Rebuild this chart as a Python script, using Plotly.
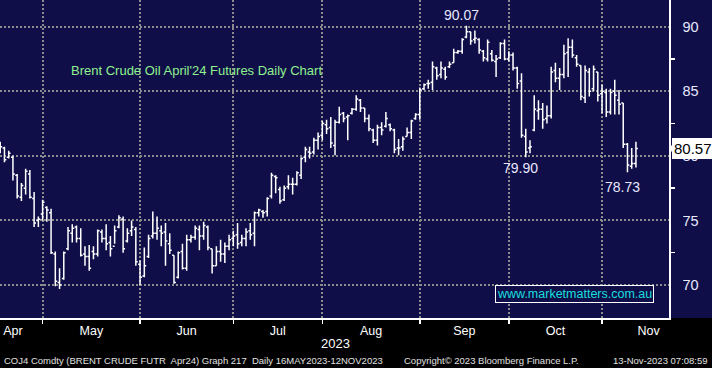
import pandas as pd
import plotly.graph_objects as go

# ---------------- data ----------------
dates = pd.bdate_range("2023-04-17", "2023-11-13")

open_ = [81.0, 80.6, 79.9, 79.9, 78.5, 76.8, 77.5, 78.6, 76.7, 75.0,
         75.5, 76.0, 75.6, 72.4, 70.2, 70.5, 72.8, 74.0, 74.5, 73.6,
         72.4, 72.2, 72.6, 72.4, 74.1, 73.6, 73.3, 73.0, 74.5, 75.1,
         73.4, 74.2, 74.3, 71.6, 70.7, 72.2, 73.8, 74.0, 74.2, 74.1,
         73.2, 72.3, 70.6, 72.6, 71.3, 73.5, 73.7, 74.3, 73.8, 74.5,
         72.8, 71.5, 72.6, 72.4, 73.0, 73.6, 73.9, 73.3, 73.6, 74.2,
         74.0, 75.6, 75.7, 75.7, 76.9, 78.4, 77.4, 76.6, 77.6, 77.8,
         77.8, 78.5, 79.9, 80.3, 80.3, 81.2, 81.6, 82.4, 82.2, 80.8,
         82.6, 83.3, 83.0, 83.3, 83.6, 84.3, 83.7, 82.9, 82.0, 81.2,
         82.2, 82.3, 82.4, 82.0, 80.6, 80.7, 81.5, 81.8, 82.9, 83.2,
         85.2, 85.6, 85.7, 86.8, 86.3, 86.7, 86.9, 87.2, 88.0, 88.1,
         89.2, 89.6, 89.0, 89.0, 88.1, 87.5, 87.9, 87.3, 87.6, 88.7,
         87.5, 87.8, 86.8, 85.8, 81.5, 80.6, 82.0, 83.5, 83.6, 82.9,
         83.1, 86.6, 86.0, 86.3, 88.0, 88.4, 87.6, 87.0, 84.5, 86.5,
         85.2, 86.5, 84.8, 84.9, 83.4, 85.0, 84.3, 84.1, 80.9, 79.2,
         79.4]
high = [81.1, 80.7, 80.4, 80.0, 78.6, 77.9, 79.0, 78.9, 77.2, 75.3,
        76.6, 76.1, 75.9, 72.6, 71.3, 72.6, 74.5, 74.7, 74.6, 74.4,
        73.0, 73.1, 73.0, 74.3, 74.3, 74.7, 73.8, 74.6, 75.4, 75.3,
        74.4, 75.0, 74.5, 71.9, 72.9, 73.9, 75.7, 75.3, 74.6, 74.8,
        74.0, 72.3, 72.6, 73.2, 73.9, 73.9, 74.6, 74.6, 74.9, 74.6,
        72.8, 73.0, 73.5, 73.3, 73.9, 74.2, 74.8, 73.9, 74.4, 74.8,
        75.7, 75.9, 75.8, 76.8, 78.7, 78.5, 77.6, 77.7, 78.5, 78.3,
        78.8, 79.9, 80.7, 80.7, 81.4, 81.8, 82.7, 82.8, 83.0, 82.8,
        83.8, 83.4, 83.2, 83.7, 84.7, 84.4, 83.7, 83.2, 82.1, 82.4,
        82.6, 83.4, 82.5, 82.1, 81.3, 81.5, 82.2, 82.8, 83.3, 85.3,
        85.6, 85.9, 87.3, 86.9, 87.3, 86.9, 87.3, 88.3, 88.2, 89.1,
        90.07, 89.6, 89.7, 89.1, 88.2, 89.0, 88.2, 87.8, 88.8, 89.0,
        88.1, 88.0, 86.9, 86.4, 82.1, 81.2, 84.7, 84.3, 84.1, 83.9,
        86.9, 87.2, 86.8, 88.6, 89.1, 89.0, 87.8, 87.0, 87.0, 86.8,
        87.0, 86.5, 85.5, 85.2, 85.2, 85.9, 85.1, 84.1, 81.0, 80.6,
        81.1]
low = [80.2, 79.5, 79.8, 78.1, 76.7, 76.5, 77.0, 76.7, 74.5, 74.5,
       75.0, 74.9, 72.4, 69.9, 69.7, 70.4, 72.7, 73.3, 73.3, 72.2,
       71.5, 71.1, 72.0, 72.2, 73.3, 72.7, 72.2, 73.2, 74.4, 72.5,
       73.3, 73.8, 71.5, 70.0, 70.6, 72.1, 73.6, 73.5, 73.0, 71.5,
       72.4, 70.1, 70.5, 71.2, 71.1, 73.3, 73.5, 72.7, 73.5, 72.7,
       70.9, 71.5, 71.8, 71.7, 72.7, 73.0, 72.8, 73.0, 73.0, 73.5,
       73.0, 75.3, 75.2, 75.3, 76.7, 77.1, 76.3, 76.5, 77.4, 77.0,
       77.7, 78.2, 79.5, 79.8, 80.1, 80.5, 81.2, 81.7, 80.6, 80.05,
       82.5, 82.6, 81.2, 83.2, 83.5, 83.4, 82.6, 81.9, 81.0, 80.8,
       81.6, 82.2, 81.9, 80.2, 80.05, 80.4, 81.5, 81.3, 82.8, 82.8,
       85.1, 85.2, 85.1, 85.9, 86.0, 85.9, 86.8, 87.2, 87.9, 87.9,
       89.1, 88.6, 88.7, 87.9, 87.3, 87.3, 87.3, 86.1, 87.5, 87.4,
       87.3, 86.6, 85.2, 81.4, 79.9, 80.2, 81.9, 82.8, 82.1, 82.5,
       82.9, 85.7, 85.1, 86.0, 86.1, 87.6, 86.9, 84.3, 84.1, 84.6,
       85.0, 84.2, 83.3, 83.0, 83.2, 83.2, 83.2, 80.6, 78.73, 79.0,
       79.1]
close = [80.7, 79.7, 80.2, 78.6, 76.9, 77.7, 78.8, 76.8, 74.8, 75.1,
         76.4, 75.8, 72.5, 70.3, 70.0, 72.5, 74.2, 74.4, 73.6, 72.3,
         72.2, 71.3, 72.4, 74.2, 73.6, 73.2, 72.8, 74.2, 75.2, 72.8,
         74.0, 74.5, 71.8, 70.6, 71.5, 73.6, 74.0, 74.4, 74.0, 73.4,
         72.7, 70.2, 72.5, 71.3, 73.5, 73.7, 74.4, 73.8, 74.6, 72.9,
         71.5, 72.6, 72.4, 73.0, 73.5, 73.8, 73.2, 73.6, 74.1, 73.9,
         75.6, 75.8, 75.6, 76.7, 78.5, 78.3, 76.5, 77.5, 77.8, 77.8,
         78.7, 79.8, 80.5, 80.2, 81.2, 81.5, 82.5, 82.1, 81.0, 82.6,
         83.2, 82.9, 83.1, 83.6, 84.4, 83.7, 82.9, 82.1, 81.2, 82.2,
         82.0, 82.9, 82.1, 80.5, 80.6, 81.3, 81.8, 82.7, 83.2, 85.1,
         85.5, 85.6, 86.9, 86.2, 86.8, 86.1, 87.1, 88.0, 88.1, 89.0,
         89.6, 88.9, 89.1, 88.2, 87.6, 88.8, 87.4, 87.5, 88.7, 87.5,
         87.8, 86.8, 85.6, 81.6, 80.3, 80.7, 83.6, 83.6, 82.8, 83.1,
         86.5, 86.0, 86.3, 87.9, 88.4, 87.8, 87.1, 84.6, 86.6, 85.0,
         86.7, 84.7, 85.0, 83.4, 84.9, 84.7, 84.0, 80.9, 79.3, 79.4,
         80.57]

y_ticks = [70, 75, 80, 85, 90]
month_names = ["Apr", "May", "Jun", "Jul", "Aug", "Sep", "Oct", "Nov"]
title_text = "Brent Crude Oil April'24 Futures Daily Chart"
watermark = "www.marketmatters.com.au"
year_text = "2023"
footer_left = "COJ4 Comdty (BRENT CRUDE FUTR  Apr24) Graph 217  Daily 16MAY2023-12NOV2023"
footer_mid = "Copyright\u00a9 2023 Bloomberg Finance L.P."
footer_right = "13-Nov-2023 07:08:59"

# ---------------- derived ----------------
idx = list(range(len(dates)))
months = [d.month for d in dates]
boundaries = [i for i in range(1, len(months)) if months[i] != months[i - 1]]
# full-month midpoints (in trading-day units); April has 20 trading days
starts = [boundaries[0] - 20] + boundaries
ends = boundaries + [boundaries[-1] + 22]
label_pos = [max((s + e) / 2, 3.0) for s, e in zip(starts, ends)]

W, H = 712, 368
ML, MR, MT, MB = 0, 43, 0, 50
PW, PH = W - ML - MR, H - MT - MB
x_range = [-0.05, 157.8]
y_range = [67.445, 92.067]
px_per_idx = PW / (x_range[1] - x_range[0])

NAVY = "#100e48"
GRID = "#8c8c8c"
FONT = "Liberation Sans, Arial, sans-serif"

fig = go.Figure()
fig.add_trace(go.Ohlc(
    x=idx, open=open_, high=high, low=low, close=close,
    increasing=dict(line=dict(color="white", width=1.5)),
    decreasing=dict(line=dict(color="white", width=1.5)),
    tickwidth=0.45, hoverinfo="skip", showlegend=False,
))
# small triangles at the y tick labels
fig.add_trace(go.Scatter(
    x=[x_range[1] + 4.5 / px_per_idx] * len(y_ticks), y=y_ticks,
    mode="markers", marker=dict(symbol="triangle-right", size=8, color="white"),
    cliponaxis=False, hoverinfo="skip", showlegend=False,
))

def px_x(p):
    return (p - ML) / PW

def px_y(p):
    return (MT + PH - p) / PH

i_hi = max(idx, key=lambda i: high[i])
i_oct = min(range(boundaries[-2], boundaries[-2] + 10), key=lambda i: low[i])
i_last = min(range(len(idx) - 5, len(idx)), key=lambda i: low[i])
last_close = close[-1]

annotations = [
    dict(x=i_hi, y=high[i_hi], xref="x", yref="y", text=f"{high[i_hi]:.2f}",
         showarrow=False, yanchor="bottom", xshift=-5, yshift=1,
         font=dict(family=FONT, size=14, color="#e8e8ff")),
    dict(x=i_oct, y=low[i_oct], xref="x", yref="y", text=f"{low[i_oct]:.2f}",
         showarrow=False, yanchor="top", xshift=-5, yshift=-1,
         font=dict(family=FONT, size=14, color="#e8e8ff")),
    dict(x=i_last, y=low[i_last], xref="x", yref="y", text=f"{low[i_last]:.2f}",
         showarrow=False, yanchor="top", xshift=-5, yshift=-5,
         font=dict(family=FONT, size=14, color="#e8e8ff")),
    dict(x=px_x(69), y=px_y(71), xref="paper", yref="paper", text=title_text,
         showarrow=False, xanchor="left", yanchor="middle",
         font=dict(family=FONT, size=13, color="#8ef08e")),
    dict(x=px_x(574), y=px_y(294), xref="paper", yref="paper", text=watermark,
         showarrow=False, xanchor="center", yanchor="middle",
         bordercolor="white", borderwidth=1, borderpad=1, bgcolor=NAVY,
         font=dict(family=FONT, size=12.5, color="#19dede")),
    dict(x=px_x(672), y=last_close, xref="paper", yref="y", text=f"{last_close:.2f}",
         showarrow=False, xanchor="left", yanchor="middle",
         bgcolor="white", bordercolor="white", borderpad=1,
         font=dict(family=FONT, size=15, color="black")),
    dict(x=px_x(335), y=px_y(343), xref="paper", yref="paper", text=year_text,
         showarrow=False, xanchor="center", yanchor="middle",
         font=dict(family=FONT, size=13, color="white")),
    dict(x=px_x(2), y=px_y(360), xref="paper", yref="paper", text=footer_left,
         showarrow=False, xanchor="left", yanchor="middle",
         font=dict(family=FONT, size=9.5, color="#e0e0e0")),
    dict(x=px_x(402), y=px_y(360), xref="paper", yref="paper", text=footer_mid,
         showarrow=False, xanchor="left", yanchor="middle",
         font=dict(family=FONT, size=9.5, color="#e0e0e0")),
    dict(x=px_x(710), y=px_y(360), xref="paper", yref="paper", text=footer_right,
         showarrow=False, xanchor="right", yanchor="middle",
         font=dict(family=FONT, size=9.5, color="#e0e0e0")),
]

shapes = [
    # black footer strip
    dict(type="rect", xref="paper", yref="paper", x0=-0.01, x1=W / PW + 0.01,
         y0=px_y(H) - 0.01, y1=0, fillcolor="black", line=dict(width=0), layer="below"),
    # pointer of last-price tag
    dict(type="path", xref="paper", yref="y",
         path=f"M {px_x(669.5)},{last_close} L {px_x(673)},{last_close + 0.4} "
              f"L {px_x(673)},{last_close - 0.4} Z",
         fillcolor="white", line=dict(width=0), layer="above"),
]

fig.update_layout(
    width=W, height=H,
    margin=dict(l=ML, r=MR, t=MT, b=MB, pad=0),
    paper_bgcolor=NAVY, plot_bgcolor=NAVY,
    showlegend=False,
    font=dict(family=FONT, color="white"),
    annotations=annotations, shapes=shapes,
    xaxis=dict(
        range=x_range, rangeslider=dict(visible=False),
        tickmode="array", tickvals=label_pos, ticktext=month_names,
        ticks="", showgrid=False, zeroline=False,
        showline=True, linecolor="white", linewidth=1.5,
        tickfont=dict(family=FONT, size=12.5, color="white"),
        minor=dict(tickmode="array", tickvals=boundaries, ticks="outside",
                   ticklen=4, tickwidth=1.5, tickcolor="white",
                   showgrid=True, gridcolor=GRID, gridwidth=2, griddash="2px,2px"),
        fixedrange=True,
    ),
    yaxis=dict(
        range=y_range, side="right",
        tickmode="array", tickvals=y_ticks, ticktext=[str(v) for v in y_ticks],
        ticks="", showgrid=True, gridcolor=GRID, gridwidth=2, griddash="2px,2px",
        zeroline=False, showline=True, linecolor="white", linewidth=1.5,
        tickfont=dict(family=FONT, size=14.5, color="#e8e8ff"),
        ticklabelstandoff=9,
        minor=dict(tickmode="array",
                   tickvals=[(a + b) / 2 for a, b in zip(y_ticks[:-1], y_ticks[1:])],
                   ticks="outside", ticklen=4, tickwidth=1.5, tickcolor="white",
                   showgrid=False),
        fixedrange=True,
    ),
)

fig.write_html(
    "out.html",
    config=dict(displayModeBar=False, staticPlot=True),
    post_script="document.body.style.margin='0px';document.body.style.overflow='hidden';",
)
